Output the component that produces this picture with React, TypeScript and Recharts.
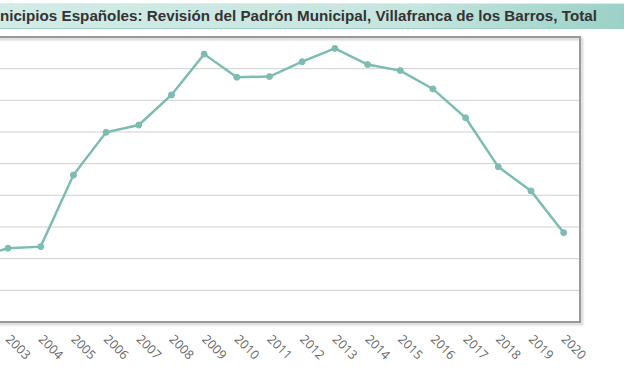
import React from 'react'
import { CartesianGrid, Line, LineChart, ReferenceArea, XAxis, YAxis } from 'recharts'

const years = [2002, 2003, 2004, 2005, 2006, 2007, 2008, 2009, 2010, 2011, 2012, 2013, 2014, 2015, 2016, 2017, 2018, 2019, 2020]
const population = [12803, 12833, 12838, 13064, 13199, 13222, 13317, 13446, 13373, 13375, 13422, 13464, 13413, 13394, 13336, 13245, 13090, 13014, 12882]
const yTicks = [12600, 12700, 12800, 12900, 13000, 13100, 13200, 13300, 13400, 13500]

const title = 'Municipios Españoles: Revisión del Padrón Municipal, Villafranca de los Barros, Total'

const data = years.map((year, i) => ({ year, total: population[i] }))
const xDomain = [years[0] - 0.5, years[years.length - 1] + 0.5]
const boundaries = years.map((y) => y + 0.5)

const TEAL = '#7dbcb2'

function YearTick({ x, y, payload }: any) {
  const tx = x - 3
  const ty = y + 10
  return (
    <text
      x={tx}
      y={ty}
      transform={`rotate(45, ${tx}, ${ty})`}
      textAnchor="start"
      fill="#666"
      fontSize={12.5}
      fontFamily="'Open Sans', sans-serif"
    >
      {payload.value}
    </text>
  )
}

export default function App() {
  return (
    <div style={{ position: 'absolute', left: 0, top: 0, width: 624, height: 383, overflow: 'hidden', background: '#fff' }}>
      <div
        style={{
          position: 'absolute',
          left: -5,
          top: 3,
          width: 640,
          height: 24,
          background: 'linear-gradient(to right, #d3ebe6 0%, #c6e5de 65%, #98d0c5 100%)',
          borderTop: '1px solid #dceeea',
          borderBottom: '1px solid #9ccfc5',
        }}
      >
        <span
          style={{
            position: 'absolute',
            left: 5 - 22,
            top: 3,
            whiteSpace: 'nowrap',
            fontFamily: "'Liberation Sans', Arial, sans-serif",
            fontWeight: 'bold',
            fontSize: 15.2,
            color: '#333',
          }}
        >
          {title}
        </span>
      </div>
      <div style={{ position: 'absolute', left: -41, top: 0 }}>
        <LineChart width={665} height={383} data={data} margin={{ top: 37, right: 44, left: 0, bottom: 0 }}>
          <CartesianGrid horizontal vertical={false} stroke="#d0d0d0" />
          <XAxis
            dataKey="year"
            type="number"
            domain={xDomain}
            ticks={years}
            interval={0}
            tickLine={false}
            axisLine={{ stroke: '#999', strokeWidth: 2 }}
            tick={<YearTick />}
            height={61}
          />
          <XAxis
            xAxisId="marks"
            dataKey="year"
            type="number"
            domain={xDomain}
            ticks={boundaries}
            interval={0}
            tick={false}
            tickLine={{ stroke: '#aaa' }}
            tickSize={4}
            axisLine={false}
            height={0}
          />
          <YAxis hide type="number" domain={[yTicks[0], yTicks[yTicks.length - 1]]} ticks={yTicks} />
          <ReferenceArea
            x1={xDomain[0]}
            x2={xDomain[1]}
            y1={yTicks[0]}
            y2={yTicks[yTicks.length - 1]}
            fill="none"
            stroke="#999"
            strokeWidth={2}
            style={{ filter: 'drop-shadow(2px 2px 1px rgba(0,0,0,0.2))' }}
          />
          <Line
            type="linear"
            dataKey="total"
            stroke={TEAL}
            strokeWidth={2.5}
            dot={{ r: 3, fill: TEAL, stroke: TEAL, strokeWidth: 1 }}
            isAnimationActive={false}
          />
        </LineChart>
      </div>
    </div>
  )
}
